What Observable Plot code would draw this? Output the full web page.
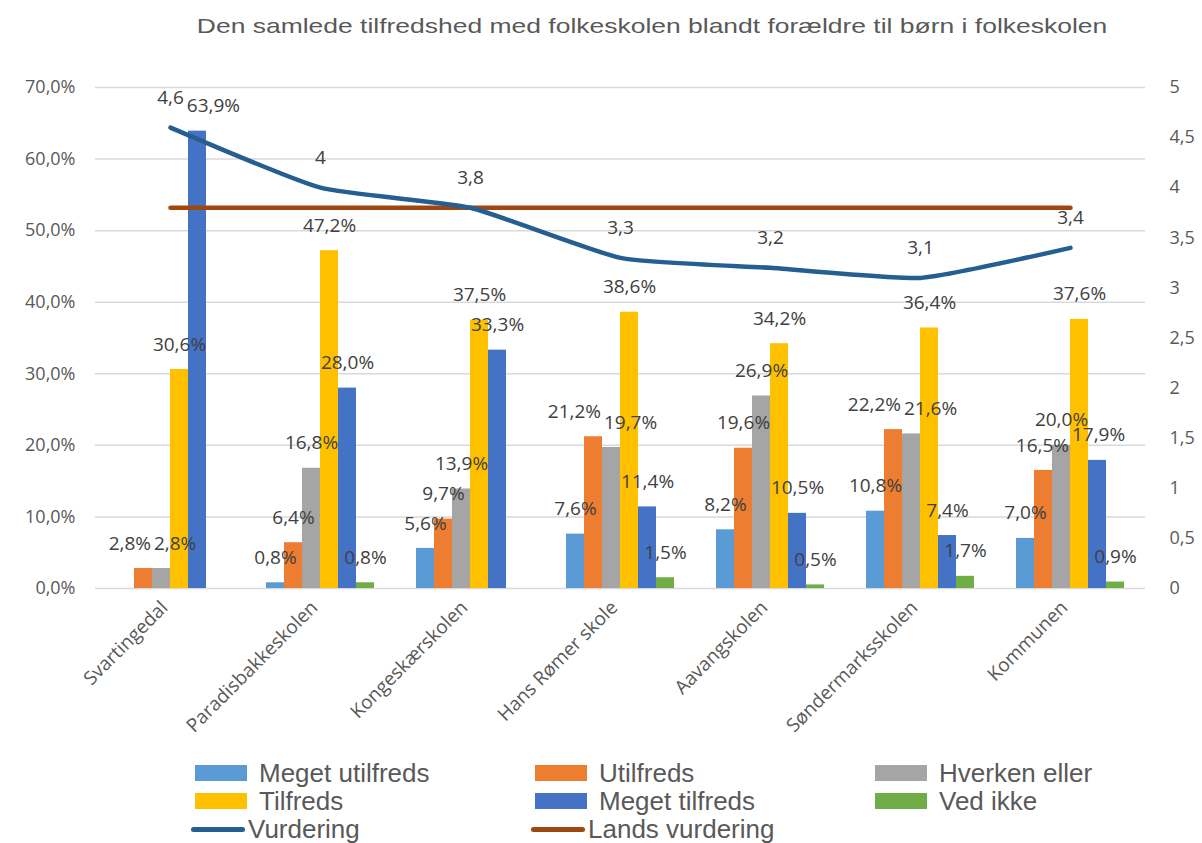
<!DOCTYPE html>
<html>
<head>
<meta charset="utf-8">
<script src="https://cdn.jsdelivr.net/npm/d3@7"></script>
<script src="https://cdn.jsdelivr.net/npm/@observablehq/plot@0.6"></script>
<style>
  html, body { margin: 0; padding: 0; background: #fff; }
  body { width: 1202px; height: 843px; overflow: hidden; position: relative; font-family: "Liberation Sans", Arial, sans-serif; }
  #title { position: absolute; left: 102px; width: 1100px; top: 14px; text-align: center; font-size: 21px; color: #595959; transform: scaleX(1.26); transform-origin: 550px 0; white-space: nowrap; }
  #chart { position: absolute; left: 0; top: 55px; }
  #legend { position: absolute; left: 0; top: 0; width: 1202px; height: 843px; pointer-events: none; }
  .item { position: absolute; display: flex; align-items: center; font-size: 26px; color: #595959; white-space: nowrap; line-height: 28px; }
  .sw { width: 52px; height: 16px; margin-right: 12px; }
  .ln { width: 54px; height: 5px; border-radius: 3px; margin-right: 3px; }
</style>
</head>
<body>
<div id="title">Den samlede tilfredshed med folkeskolen blandt forældre til børn i folkeskolen</div>
<div id="chart"></div>
<div id="legend"></div>
<script>
const schools = ["Svartingedal", "Paradisbakkeskolen", "Kongeskærskolen", "Hans Rømer skole", "Aavangskolen", "Søndermarksskolen", "Kommunen"];
const seriesNames = ["Meget utilfreds", "Utilfreds", "Hverken eller", "Tilfreds", "Meget tilfreds", "Ved ikke"];
const megetUtilfreds = [0, 0.8, 5.6, 7.6, 8.2, 10.8, 7.0];
const utilfreds      = [2.8, 6.4, 9.7, 21.2, 19.6, 22.2, 16.5];
const hverkenEller   = [2.8, 16.8, 13.9, 19.7, 26.9, 21.6, 20.0];
const tilfreds       = [30.6, 47.2, 37.5, 38.6, 34.2, 36.4, 37.6];
const megetTilfreds  = [63.9, 28.0, 33.3, 11.4, 10.5, 7.4, 17.9];
const vedIkke        = [0, 0.8, 0, 1.5, 0.5, 1.7, 0.9];
const vurdering      = [4.6, 4.0, 3.8, 3.3, 3.2, 3.1, 3.4];
const landsVurdering = [3.8, 3.8, 3.8, 3.8, 3.8, 3.8, 3.8];
const lineNames = ["Vurdering", "Lands vurdering"];
const leftTicks = [0, 10, 20, 30, 40, 50, 60, 70];
const rightTicks = [0, 0.5, 1, 1.5, 2, 2.5, 3, 3.5, 4, 4.5, 5];

const barColors = ["#5B9BD5", "#ED7D31", "#A5A5A5", "#FFC000", "#4472C4", "#70AD47"];
const lineColors = ["#255E91", "#9E480E"];

const seriesValues = [megetUtilfreds, utilfreds, hverkenEller, tilfreds, megetTilfreds, vedIkke];
const rows = [];
seriesValues.forEach((vals, k) => vals.forEach((v, i) => rows.push({i, k, v, name: seriesNames[k]})));
const ratingScale = 70 / 5; // right axis 0..5 maps onto left axis 0..70 %
const vurdRows = vurdering.map((v, i) => ({i, v}));
const landsRows = landsVurdering.map((v, i) => ({i, v}));

const bw = 0.12;
const comma = s => String(s).replace(".", ",");
const pct = v => comma(v.toFixed(1)) + "%";

// layout
const W = 1202, H = 700, mT = 32, mB = 167, mL = 95, mR = 57;
const xDomain = [-0.5, 6.5], yDomain = [0, 70];
const xs = Plot.scale({x: {type: "linear", domain: xDomain, range: [mL, W - mR]}});
const ys = Plot.scale({y: {type: "linear", domain: yDomain, range: [H - mB, mT]}});

// label placement with simple collision avoidance (pixel space via the scales)
const FS = 19;
const textW = s => { let w = 0; for (const c of s) w += c === "%" ? 0.82 : c === "," ? 0.26 : 0.572; return w * FS; };
const barLabels = rows.filter(d => d.v > 0).map(d => {
  const t = pct(d.v);
  return {i: d.i, k: d.k, t, px: xs.apply(d.i + (d.k - 2.5) * bw), py: ys.apply(d.v) - 25, w: textW(t), dx: 0};
});
const lineLabels = vurdRows.map(d => {
  const t = comma(d.v);
  return {t, px: xs.apply(d.i), py: ys.apply(d.v * ratingScale) - 30, w: textW(t)};
});
for (let iter = 0; iter < 3; iter++) {
  for (let i = 0; i < schools.length; i++) {
    const g = barLabels.filter(l => l.i === i).sort((a, b) => a.k - b.k);
    for (let a = 0; a < g.length; a++) for (let b = a + 1; b < g.length; b++) {
      const A = g[a], B = g[b];
      if (Math.abs(A.py - B.py) >= 13) continue;
      const gap = (B.px + B.dx) - (A.px + A.dx), need = (A.w + B.w) / 2 + 3;
      if (gap < need) { const s = (need - gap) / 2; A.dx -= s; B.dx += s; }
    }
  }
}
barLabels.forEach(B => {
  lineLabels.forEach(L => {
    if (Math.abs(L.py - B.py) >= 20) return;
    const gap = (B.px + B.dx) - L.px, need = (L.w + B.w) / 2 + 3;
    if (gap >= 0 && gap < need) B.dx += need - gap;
  });
});
barLabels.forEach(l => { l.x = xs.invert(l.px + l.dx); l.y = ys.invert(l.py + 25); });

const chart = Plot.plot({
  width: W, height: H,
  marginTop: mT, marginBottom: mB, marginLeft: mL, marginRight: mR,
  x: {type: "linear", domain: xDomain},
  y: {domain: yDomain},
  style: {fontFamily: "'Open Sans', sans-serif", fontSize: "18px", color: "#595959", background: "white"},
  marks: [
    Plot.gridY(leftTicks, {stroke: "#d9d9d9", strokeOpacity: 1, strokeWidth: 1.5}),
    Plot.axisY(leftTicks, {tickSize: 0, tickPadding: 20, tickFormat: d => pct(d), fontSize: 18, label: null}),
    Plot.axisY(rightTicks.map(d => d * ratingScale), {anchor: "right", tickSize: 0, tickPadding: 24, textAnchor: "start", tickFormat: d => comma(+(d / ratingScale).toFixed(1)), fontSize: 18, label: null}),
    Plot.axisX(d3.range(schools.length), {tickSize: 0, tickPadding: 16, tickRotate: -45, tickFormat: i => schools[i], fontSize: 19, dx: -6, label: null}),
    Plot.rect(rows, {x1: d => d.i + (d.k - 3) * bw, x2: d => d.i + (d.k - 2) * bw, y1: 0, y2: "v", fill: d => barColors[d.k]}),
    Plot.text(barLabels, {x: "x", y: "y", dy: -25, text: "t", fill: "#404040", fontSize: FS}),
    Plot.line(landsRows, {x: "i", y: d => d.v * ratingScale, stroke: lineColors[1], strokeWidth: 4.5, strokeLinecap: "round"}),
    Plot.line(vurdRows, {x: "i", y: d => d.v * ratingScale, stroke: lineColors[0], strokeWidth: 4.5, strokeLinecap: "round", curve: "cardinal", tension: 0.5}),
    Plot.text(vurdRows, {x: "i", y: d => d.v * ratingScale, dy: -30, text: d => comma(d.v), fill: "#404040", fontSize: FS})
  ]
});
document.getElementById("chart").appendChild(chart);

// Legend
const legend = document.getElementById("legend");
const colX = [195, 535, 875];
const rowY = [773, 801, 829];
seriesNames.forEach((name, k) => {
  const el = document.createElement("div");
  el.className = "item";
  el.style.left = colX[k % 3] + "px";
  el.style.top = (rowY[Math.floor(k / 3)] - 14) + "px";
  el.innerHTML = `<span class="sw" style="background:${barColors[k]}"></span><span>${name}</span>`;
  legend.appendChild(el);
});
lineNames.forEach((name, k) => {
  const el = document.createElement("div");
  el.className = "item";
  el.style.left = (colX[k] - 4) + "px";
  el.style.top = (rowY[2] - 14) + "px";
  el.innerHTML = `<span class="ln" style="background:${lineColors[k]}"></span><span>${name}</span>`;
  legend.appendChild(el);
});
</script>
</body>
</html>
